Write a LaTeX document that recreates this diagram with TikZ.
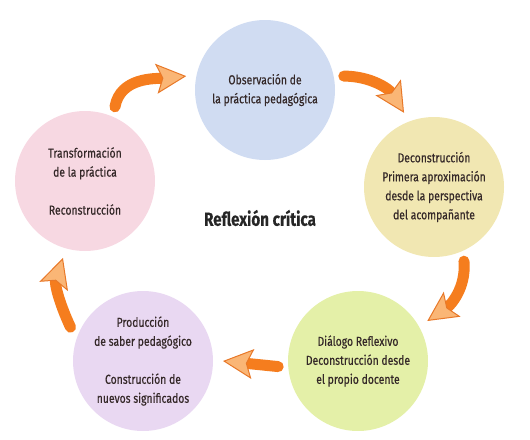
\documentclass[tikz,border=0pt]{standalone}
\usepackage{fontspec}
\usetikzlibrary{arrows.meta, positioning}
\newfontfamily\diagfont{Fira Sans}[FakeStretch=0.8, FakeBold=0.4]
\definecolor{obscolor}   {RGB}{208, 220, 242}
\definecolor{deccolor}   {RGB}{241, 231, 178}
\definecolor{dialcolor}  {RGB}{228, 240, 168}
\definecolor{prodcolor}  {RGB}{233, 216, 242}
\definecolor{transcolor} {RGB}{247, 216, 226}
\definecolor{textcolor}  {RGB}{ 52,  40,  40}
\definecolor{arroworange}{RGB}{245, 125,  30}
\definecolor{arrowedge}  {RGB}{232, 120,  40}
\definecolor{arrowhead}  {RGB}{250, 182, 118}
\tikzset{
	stageblock/.style={
		circle, minimum size=140pt, inner sep=0pt, outer sep=10pt,
		align=center, text=textcolor,
		font=\diagfont\fontsize{13}{19}\selectfont
	},
	flowarrow/.style={
		-{Stealth[length=30pt, width=30pt, inset=6pt, line width=1pt,
			color=arrowedge, fill=arrowhead]},
		line width=11pt, color=arroworange, line cap=round
	}
}
\begin{document}
\begin{tikzpicture}[x=1pt, y=1pt]
		\useasboundingbox (0,0) rectangle (530,-439);
		
		%% ═══════════════════════════════
		%%  STAGES (circle of five)
		%% ═══════════════════════════════
		\node[stageblock, fill=obscolor]   (obs)   at (265,-90)  {Observación de\\la práctica pedagógica};
		\node[stageblock, fill=deccolor]   (dec)   at (434,-187) {Deconstrucción\\Primera aproximación\\desde la perspectiva\\del acompañante};
		\node[stageblock, fill=dialcolor]  (dial)  at (358,-361) {Diálogo Reflexivo\\Deconstrucción desde\\el propio docente};
		\node[stageblock, fill=prodcolor]  (prod)  at (143,-361) {Producción\\de saber pedagógico\\[19pt]Construcción de\\nuevos significados};
		\node[stageblock, fill=transcolor] (trans) at (85,-181)  {Transformación\\de la práctica\\[19pt]Reconstrucción};
		
		%% ═══════════════════════════════
		%%  CENTRE TITLE
		%% ═══════════════════════════════
		\node[font=\diagfont\bfseries\fontsize{19}{23}\selectfont, text=black!85] (title) at (260,-218) {Reflexión crítica};
		
		%% ═══════════════════════════════
		%%  ARROWS
		%% ═══════════════════════════════
		\draw[flowarrow] (trans.68) to[out=80, in=185] (obs.170);
		\draw[flowarrow] (obs.10)   to[out=0, in=122]  (dec.112);
		\draw[flowarrow] (dec.-68)  to[out=-85, in=34] (dial.30);
		\draw[flowarrow] (dial.184) -- (prod.0);
		\draw[flowarrow] (prod.155) to[out=115, in=-108] (trans.-106);
	\end{tikzpicture}
\end{document}
